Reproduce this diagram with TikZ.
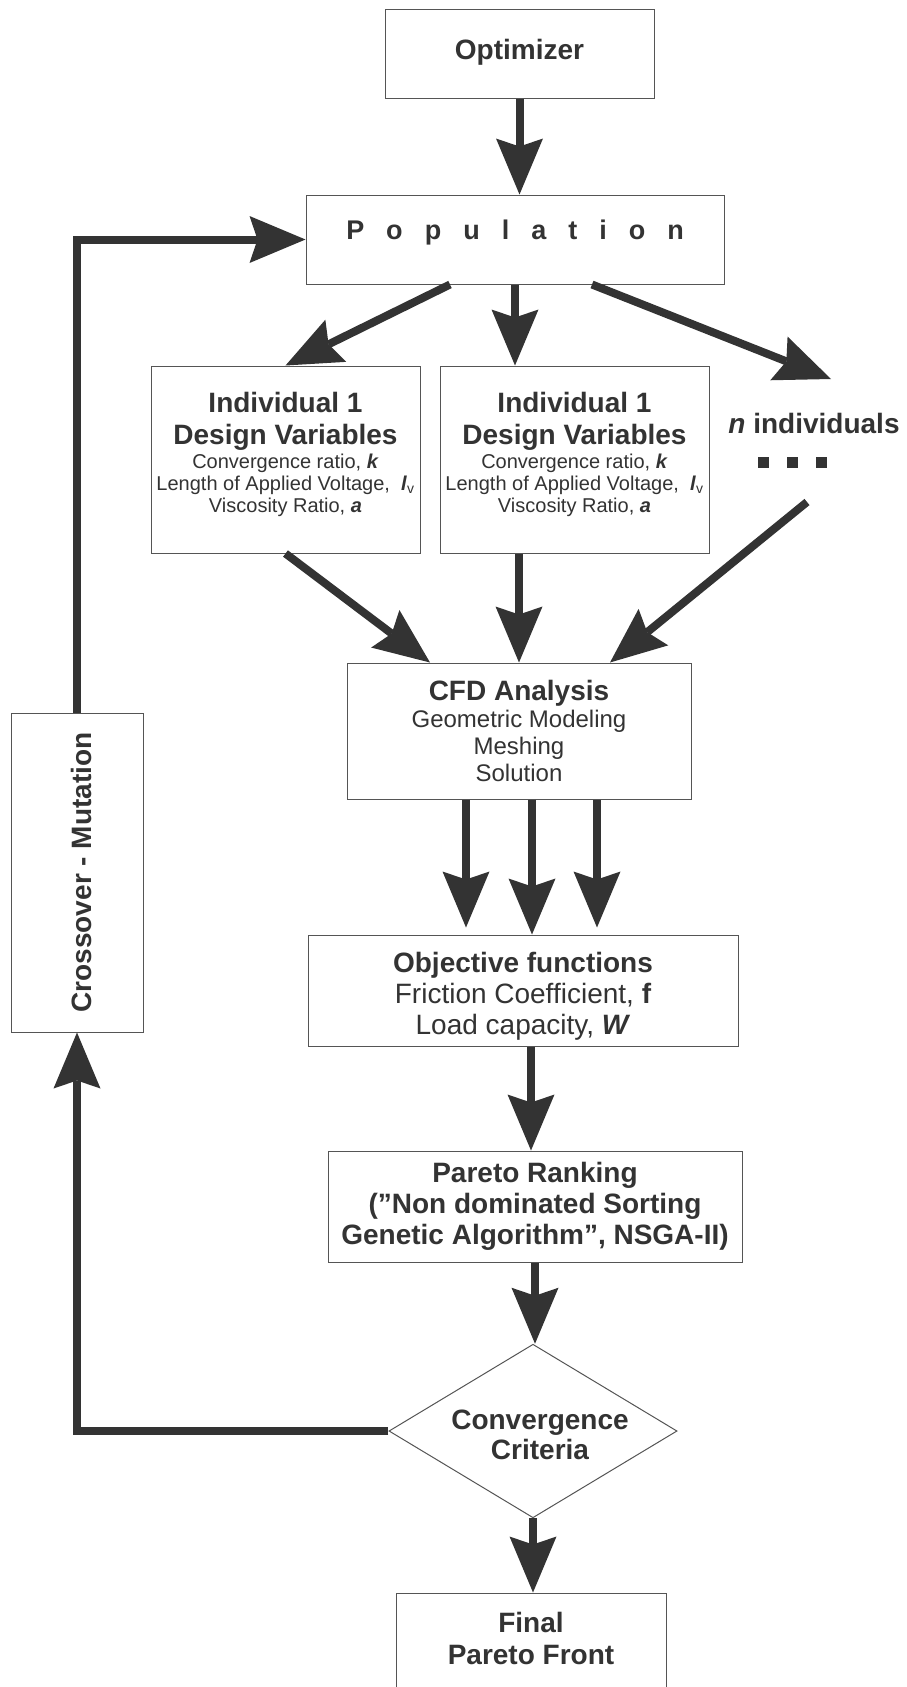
\documentclass[tikz,border=0pt]{standalone}
\usepackage{fontspec}
\setmainfont{Liberation Sans}
\usetikzlibrary{arrows.meta,calc,shapes.geometric}

\definecolor{inkgray}{HTML}{333333}
\definecolor{linegray}{HTML}{555555}

\newcommand{\bigfnt}{\fontsize{28}{32}\selectfont}
\newcommand{\popfnt}{\fontsize{27}{30}\selectfont}
\newcommand{\varfnt}{\fontsize{20}{22}\selectfont}
\newcommand{\stepfnt}{\fontsize{24}{27}\selectfont}

\tikzset{
  box/.style={draw=linegray,line width=1pt,fill=white,inner sep=0pt,
    align=center,text=inkgray},
  decision/.style={box,diamond,aspect=1.66},
  flow/.style={-{Stealth[length=56pt,width=47pt,inset=8pt,line width=0pt]},
    line width=8pt,draw=inkgray},
  nsquare/.style={fill=inkgray,minimum size=11pt,inner sep=0pt},
}

\begin{document}
\begin{tikzpicture}[x=1pt,y=-1pt]
  \useasboundingbox (0,0) rectangle (906,1687);
  \clip (0,0) rectangle (906,1687);

  \node[box,minimum width=269pt,minimum height=89pt,font=\bigfnt\bfseries,
    text height=20pt,text depth=9pt] (opt) at (519.5,53.5) {Optimizer};
  \node[box,minimum width=418pt,minimum height=89pt,font=\popfnt\bfseries,
    text height=19pt,text depth=19pt] (pop) at (515,239.5)
    {\spaceskip=22pt P o p u l a t i o n};

  \node[box,minimum width=269pt,minimum height=187pt,font=\bigfnt\bfseries]
    (ind1) at (285.5,459.5)
    {Individual 1\\Design Variables\\[-8pt]
     {\varfnt\mdseries Convergence ratio, \textbf{\textit{k}}}\\[-10pt]
     {\varfnt\mdseries Length of Applied Voltage,\ \ \textbf{\textit{l}}\textsubscript{v}}\\[-10pt]
     {\varfnt\mdseries Viscosity Ratio, \textbf{\textit{a}}\rule[-15pt]{0pt}{0pt}}};
  \node[box,minimum width=269pt,minimum height=187pt,font=\bigfnt\bfseries]
    (ind2) at (574.5,459.5)
    {Individual 1\\Design Variables\\[-8pt]
     {\varfnt\mdseries Convergence ratio, \textbf{\textit{k}}}\\[-10pt]
     {\varfnt\mdseries Length of Applied Voltage,\ \ \textbf{\textit{l}}\textsubscript{v}}\\[-10pt]
     {\varfnt\mdseries Viscosity Ratio, \textbf{\textit{a}}\rule[-15pt]{0pt}{0pt}}};

  \node[text=inkgray,font=\bigfnt\bfseries] (nind) at (814,423)
    {\textit{n} individuals};
  \foreach \i in {0,1,2}
    \node[nsquare] (ndot\i) at (763+29*\i,462.5) {};
  \coordinate (ntop) at (831,379);
  \coordinate (nbot) at (807,502);

  \node[box,minimum width=344pt,minimum height=136pt,font=\stepfnt]
    (cfd) at (519,731)
    {{\bigfnt\bfseries CFD Analysis}\\Geometric Modeling\\Meshing\\Solution};

  \node[box,minimum width=430pt,minimum height=111pt,
    font=\fontsize{28}{31}\selectfont] (obj) at (523,990.5)
    {{\bfseries\rule{0pt}{31pt}Objective functions}\\
     Friction Coefficient, \textbf{f}\\
     Load capacity, \textbf{\textit{W}}};

  \node[box,minimum width=414pt,minimum height=111pt,
    font=\fontsize{28}{31}\selectfont\bfseries] (par) at (535,1206.5)
    {Pareto Ranking\\(”Non dominated Sorting\\Genetic Algorithm”, NSGA-II)};

  \node[decision,minimum width=286pt,minimum height=172pt,
    font=\fontsize{28}{30}\selectfont\bfseries] (conv) at (533,1431)
    {\hspace*{14pt}\rule{0pt}{28pt}Convergence\\\hspace*{14pt}Criteria};

  \node[box,minimum width=270pt,minimum height=117pt,font=\bigfnt\bfseries]
    (fin) at (531,1651.5)
    {Final\\Pareto Front\rule[-27pt]{0pt}{0pt}};

  \node[box,minimum width=132pt,minimum height=319pt,font=\bigfnt\bfseries]
    (cross) at (77,872.5)
    {\rotatebox{90}{\rule{0pt}{30pt}Crossover - Mutation}};

  \draw[flow] (opt.south) -- (opt.south |- pop.north);
  \draw[flow] ($(pop.south)+(-65,0)$) -- (ind1.north);
  \draw[flow] (pop.south) -- (pop.south |- ind2.north);
  \draw[flow] ($(pop.south)+(77,0)$) -- (ntop);
  \draw[flow] (ind1.south) -- ($(cfd.north)+(-89,0)$);
  \draw[flow] (cfd.north |- ind2.south) -- (cfd.north);
  \draw[flow] (nbot) -- ($(cfd.north)+(91,0)$);
  \foreach \dx/\gap in {-57/7pt,9/0pt,74/7pt}
    \draw[flow,shorten >=\gap] ($(obj.north |- cfd.south)+(\dx,0)$)
      -- ($(obj.north)+(\dx,0)$);
  \draw[flow] ($(obj.south)+(8,0)$) -- ($(obj.south |- par.north)+(8,0)$);
  \draw[flow] (par.south) -- (par.south |- conv.north);
  \draw[flow] (conv.south) -- (conv.south |- fin.north);
  \draw[flow] (conv.west) -| (cross.south);
  \draw[flow] (cross.north) |- (pop.west);
\end{tikzpicture}
\end{document}
